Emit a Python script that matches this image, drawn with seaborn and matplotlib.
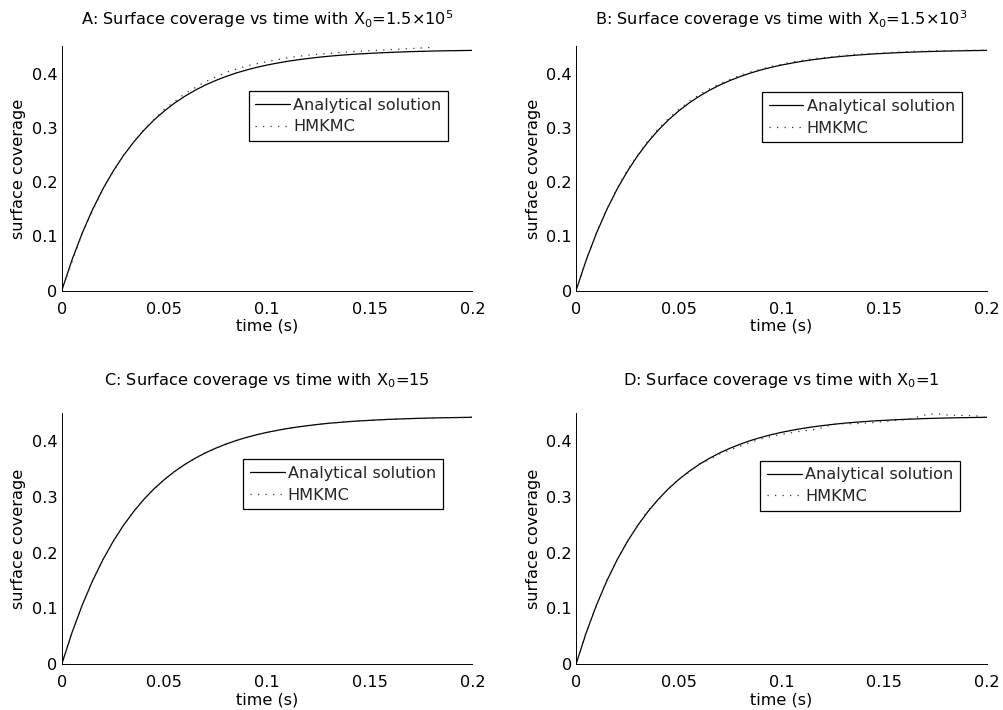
import numpy as np
import pandas as pd
import matplotlib
matplotlib.use("Agg")
import matplotlib.pyplot as plt
import seaborn as sns

sns.set_theme(style="white")
plt.rcParams["font.family"] = ["DejaVu Sans"]
plt.rcParams["mathtext.fontset"] = "dejavusans"
FS = 11.6
plt.rcParams["font.size"] = FS

# time grids (s)
t_full = np.linspace(0, 0.2, 41)
t_short = np.linspace(0, 0.18, 19)

# analytical surface coverage (same in every panel)
analytical = [0, 0.0568, 0.1063, 0.1495, 0.1871, 0.2199, 0.2486, 0.2736, 0.2955, 0.3146,
              0.3311, 0.3456, 0.3582, 0.3692, 0.3789, 0.3872, 0.3945, 0.4010, 0.4065, 0.4114,
              0.4156, 0.4192, 0.4225, 0.4253, 0.4277, 0.4299, 0.4318, 0.4334, 0.4348, 0.4361,
              0.4371, 0.4381, 0.4389, 0.4396, 0.4403, 0.4408, 0.4413, 0.4417, 0.4420, 0.4423,
              0.4426]

# HMKMC runs
hmkmc_a = [0, 0.106, 0.187, 0.249, 0.297, 0.334, 0.363, 0.385, 0.402, 0.414,
           0.422, 0.429, 0.434, 0.437, 0.440, 0.442, 0.444, 0.446, 0.448]
hmkmc_b = [0, 0.057, 0.107, 0.150, 0.189, 0.222, 0.250, 0.276, 0.298, 0.317,
           0.334, 0.348, 0.361, 0.372, 0.381, 0.389, 0.397, 0.403, 0.408, 0.413,
           0.417, 0.421, 0.424, 0.427, 0.429, 0.431, 0.433, 0.435, 0.436, 0.437,
           0.438, 0.439, 0.440, 0.441, 0.441, 0.442, 0.442, 0.442, 0.443, 0.443,
           0.443]
hmkmc_c = [0, 0.057, 0.106, 0.150, 0.187, 0.220, 0.249, 0.274, 0.296, 0.314,
           0.331, 0.346, 0.358, 0.369, 0.379, 0.387, 0.395, 0.401, 0.406, 0.411,
           0.416, 0.419, 0.422, 0.425, 0.428, 0.430, 0.432, 0.433, 0.435, 0.436,
           0.437, 0.438, 0.439, 0.440, 0.440, 0.441, 0.441, 0.442, 0.442, 0.442,
           0.443]
hmkmc_d = [0, 0.058, 0.106, 0.151, 0.187, 0.221, 0.248, 0.276, 0.294, 0.315,
           0.332, 0.344, 0.359, 0.367, 0.377, 0.384, 0.391, 0.398, 0.404, 0.408,
           0.412, 0.415, 0.418, 0.420, 0.424, 0.430, 0.431, 0.431, 0.432, 0.433,
           0.435, 0.437, 0.438, 0.442, 0.447, 0.449, 0.447, 0.446, 0.446, 0.445,
           0.442]

titles = [r"A: Surface coverage vs time with X$_0$=1.5×10$^5$",
          r"B: Surface coverage vs time with X$_0$=1.5×10$^3$",
          r"C: Surface coverage vs time with X$_0$=15",
          r"D: Surface coverage vs time with X$_0$=1"]
x_ticks = [0, 0.05, 0.1, 0.15, 0.2]
x_tick_labels = ["0", "0.05", "0.1", "0.15", "0.2"]
y_ticks = [0, 0.1, 0.2, 0.3, 0.4]
y_tick_labels = ["0", "0.1", "0.2", "0.3", "0.4"]

panels = [
    dict(rect=[0.0615, 0.5906, 0.4090, 0.3441], t_h=t_short, h=hmkmc_a,
         leg=(0.941, 0.817), pad=15.6),
    dict(rect=[0.5737, 0.5906, 0.4094, 0.3441], t_h=t_full, h=hmkmc_b,
         leg=(0.938, 0.812), pad=15.6),
    dict(rect=[0.0615, 0.0644, 0.4090, 0.3537], t_h=t_full, h=hmkmc_c,
         leg=(0.928, 0.816), pad=20.0),
    dict(rect=[0.5737, 0.0644, 0.4094, 0.3537], t_h=t_full, h=hmkmc_d,
         leg=(0.934, 0.811), pad=20.0),
]

fig = plt.figure(figsize=(10.04, 7.10), dpi=100)
fig.patch.set_facecolor("white")

for p, title in zip(panels, titles):
    ax = fig.add_axes(p["rect"])
    ax.set_facecolor("white")
    sns.lineplot(x=t_full, y=analytical, ax=ax, color="black", linewidth=0.9,
                 label="Analytical solution")
    sns.lineplot(x=p["t_h"], y=p["h"], ax=ax, color="#333333", linewidth=0.9,
                 linestyle=(0, (1, 5)), label="HMKMC")
    ax.set_xlim(0, 0.2)
    ax.set_ylim(0, 0.45)
    ax.set_xticks(x_ticks)
    ax.set_xticklabels(x_tick_labels)
    ax.set_yticks(y_ticks)
    ax.set_yticklabels(y_tick_labels)
    for side in ("top", "right"):
        ax.spines[side].set_visible(False)
    for side in ("left", "bottom"):
        ax.spines[side].set_color("black")
        ax.spines[side].set_linewidth(0.7)
    ax.tick_params(direction="in", length=4, width=0.7, color="black",
                   labelsize=FS, labelcolor="black")
    ax.tick_params(axis="x", pad=8)
    ax.tick_params(axis="y", pad=3)
    ax.set_xlabel("time (s)", fontsize=FS, color="black", labelpad=1.5)
    ax.set_ylabel("surface coverage", fontsize=FS, color="black", labelpad=4)
    ax.set_title(title, fontsize=FS, color="black", pad=p["pad"])
    leg = ax.legend(loc="upper right", bbox_to_anchor=p["leg"], borderaxespad=0,
                    fontsize=FS, frameon=True, fancybox=False, framealpha=1,
                    edgecolor="black", borderpad=0.42, handlelength=2.15,
                    handletextpad=0.2, labelspacing=0.4)
    leg.get_frame().set_linewidth(0.9)

fig.savefig("out.png", dpi=100, facecolor="white")
